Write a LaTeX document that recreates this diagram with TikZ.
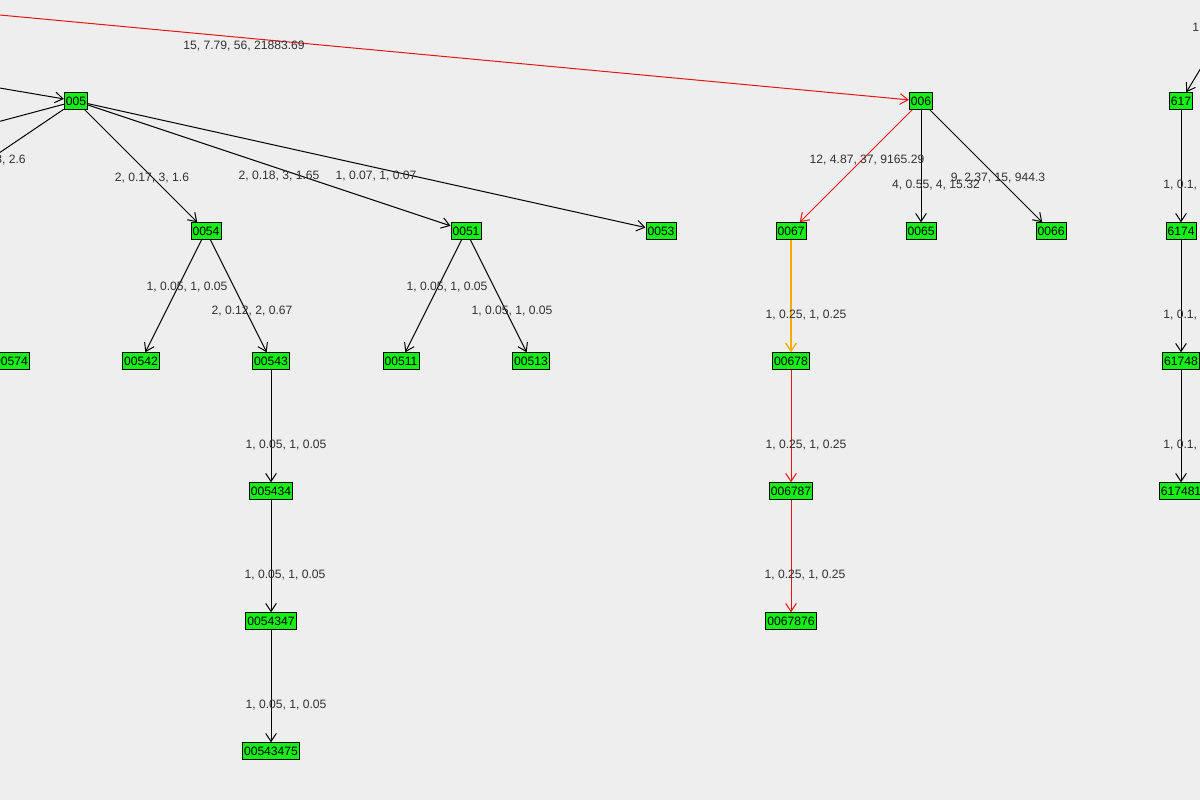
\documentclass[tikz,border=0pt]{standalone}
\usepackage{fontspec}
\setmainfont{Liberation Sans}
\usetikzlibrary{arrows.meta}
\definecolor{bg}{RGB}{238,238,238}
\definecolor{nodegreen}{RGB}{20,240,20}
\definecolor{lbl}{RGB}{50,50,50}
\definecolor{edgered}{RGB}{230,20,20}
\definecolor{edgeyel}{RGB}{240,175,0}
\begin{document}
\begin{tikzpicture}[x=0.75pt,y=-0.75pt,
  box/.style={draw=black,fill=nodegreen,font=\fontsize{9.1}{10}\selectfont,inner xsep=1.2pt,inner ysep=0pt,minimum height=12.5pt,line width=0.6pt},
  edge/.style={draw=black,line width=0.75pt,-{Straight Barb[length=6pt,width=8pt]}},
  lab/.style={font=\fontsize{9.1}{10}\selectfont,text=lbl,inner sep=0pt}]
\fill[bg] (0,0) rectangle (1200,800);
\useasboundingbox (0,0) rectangle (1200,800);
\clip (0,0) rectangle (1200,800);
\node[box] (n005) at (76,101) {005};
\node[box] (n006) at (921,101) {006};
\node[box] (n617) at (1181,101) {617};
\node[box] (n0054) at (206,231) {0054};
\node[box] (n0051) at (466,231) {0051};
\node[box] (n0053) at (661,231) {0053};
\node[box] (n0067) at (791,231) {0067};
\node[box] (n0065) at (921,231) {0065};
\node[box] (n0066) at (1051,231) {0066};
\node[box] (n6174) at (1181,231) {6174};
\node[box] (n00574) at (11,361) {00574};
\node[box] (n00542) at (141,361) {00542};
\node[box] (n00543) at (271,361) {00543};
\node[box] (n00511) at (401,361) {00511};
\node[box] (n00513) at (531,361) {00513};
\node[box] (n00678) at (791,361) {00678};
\node[box] (n61748) at (1181,361) {61748};
\node[box] (n005434) at (271,491) {005434};
\node[box] (n006787) at (791,491) {006787};
\node[box] (n617481) at (1181,491) {617481};
\node[box] (n0054347) at (271,621) {0054347};
\node[box] (n0067876) at (791,621) {0067876};
\node[box] (n00543475) at (271,751) {00543475};
\coordinate (pA) at (-200,54);
\coordinate (pR) at (-300,-13);
\coordinate (qA) at (-100,148);
\coordinate (qB) at (-100,220);
\coordinate (pC) at (1230,20);
% edges
\draw[edge,edgered] (pR) -- (n006);
\draw[edge] (pA) -- (n005);
\draw[draw=black,line width=0.75pt] (n005) -- (qA);
\draw[draw=black,line width=0.75pt] (n005) -- (qB);
\draw[edge] (n005) -- (n0054);
\draw[edge] (n005) -- (n0051);
\draw[edge] (n005) -- (n0053);
\draw[edge] (n0054) -- (n00542);
\draw[edge] (n0054) -- (n00543);
\draw[edge] (n0051) -- (n00511);
\draw[edge] (n0051) -- (n00513);
\draw[edge] (n00543) -- (n005434);
\draw[edge] (n005434) -- (n0054347);
\draw[edge] (n0054347) -- (n00543475);
\draw[edge,edgered] (n006) -- (n0067);
\draw[edge] (n006) -- (n0065);
\draw[edge] (n006) -- (n0066);
\draw[edge,edgeyel,line width=1pt] (n0067) -- (n00678);
\draw[edge,edgered] (n00678) -- (n006787);
\draw[edge,edgered] (n006787) -- (n0067876);
\draw[edge] (pC) -- (n617);
\draw[edge] (n617) -- (n6174);
\draw[edge] (n6174) -- (n61748);
\draw[edge] (n61748) -- (n617481);
% labels
\node[lab] (l1) at (244,46) {15, 7.79, 56, 21883.69};
\node[lab,anchor=east] (l2) at (26,160) {3, 2.6};
\node[lab] (l3) at (152,178) {2, 0.17, 3, 1.6};
\node[lab] (l4) at (279,176) {2, 0.18, 3, 1.65};
\node[lab] (l5) at (376,176) {1, 0.07, 1, 0.07};
\node[lab] (l6) at (187,287) {1, 0.05, 1, 0.05};
\node[lab] (l7) at (252,311) {2, 0.12, 2, 0.67};
\node[lab] (l8) at (447,287) {1, 0.05, 1, 0.05};
\node[lab] (l9) at (512,311) {1, 0.05, 1, 0.05};
\node[lab] (l10) at (286,445) {1, 0.05, 1, 0.05};
\node[lab] (l11) at (285,575) {1, 0.05, 1, 0.05};
\node[lab] (l12) at (286,705) {1, 0.05, 1, 0.05};
\node[lab] (l13) at (867,160) {12, 4.87, 37, 9165.29};
\node[lab] (l14) at (936,185) {4, 0.55, 4, 15.32};
\node[lab] (l15) at (998,178) {9, 2.37, 15, 944.3};
\node[lab] (l16) at (806,315) {1, 0.25, 1, 0.25};
\node[lab] (l17) at (806,445) {1, 0.25, 1, 0.25};
\node[lab] (l18) at (805,575) {1, 0.25, 1, 0.25};
\node[lab,anchor=west] (l19) at (1163,185) {1, 0.1, 1, 0.1};
\node[lab,anchor=west] (l20) at (1163,315) {1, 0.1, 1, 0.1};
\node[lab,anchor=west] (l21) at (1163,445) {1, 0.1, 1, 0.1};
\node[lab,anchor=west] (l22) at (1192,28) {1, 0.1, 1, 0.1};
\end{tikzpicture}
\end{document}
